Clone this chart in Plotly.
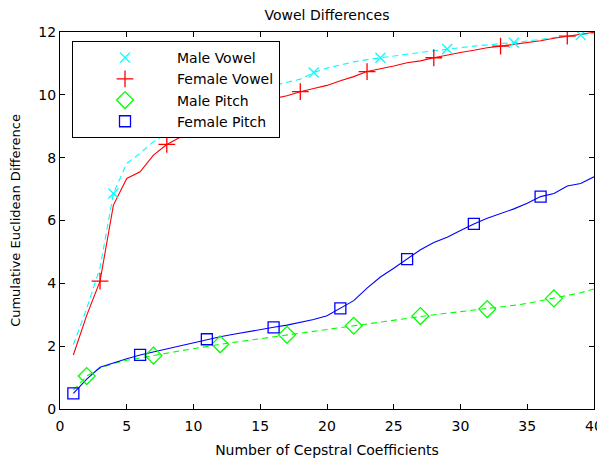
import plotly.graph_objects as go

coeffs = list(range(1, 41))

male_vowel = [2.05, 3.2, 4.5, 6.86, 7.82, 8.14, 8.51, 8.77, 9.0, 9.2,
              9.4, 9.6, 9.8, 9.95, 10.1, 10.3, 10.4, 10.5, 10.71, 10.85,
              10.95, 11.05, 11.12, 11.18, 11.25, 11.3, 11.35, 11.4, 11.46, 11.5,
              11.55, 11.6, 11.63, 11.66, 11.72, 11.77, 11.82, 11.86, 11.9, 11.96]

female_vowel = [1.72, 2.98, 4.07, 6.49, 7.34, 7.55, 8.08, 8.42, 8.65, 8.9,
                9.1, 9.3, 9.45, 9.6, 9.75, 9.88, 9.97, 10.1, 10.2, 10.3,
                10.45, 10.58, 10.74, 10.82, 10.92, 11.02, 11.08, 11.18, 11.27, 11.35,
                11.42, 11.5, 11.55, 11.6, 11.66, 11.72, 11.8, 11.87, 11.93, 11.99]

male_pitch = [0.6, 1.05, 1.3, 1.45, 1.55, 1.63, 1.7, 1.78, 1.85, 1.92,
              2.0, 2.06, 2.12, 2.18, 2.24, 2.3, 2.36, 2.42, 2.48, 2.54,
              2.6, 2.65, 2.72, 2.78, 2.84, 2.9, 2.96, 3.0, 3.05, 3.1,
              3.14, 3.18, 3.24, 3.3, 3.36, 3.44, 3.52, 3.6, 3.7, 3.82]

female_pitch = [0.5, 0.95, 1.33, 1.47, 1.6, 1.72, 1.82, 1.92, 2.02, 2.12,
                2.22, 2.3, 2.38, 2.46, 2.53, 2.6, 2.67, 2.75, 2.85, 2.97,
                3.2, 3.45, 3.85, 4.2, 4.48, 4.77, 5.07, 5.3, 5.47, 5.68,
                5.89, 6.07, 6.22, 6.37, 6.55, 6.76, 6.86, 7.1, 7.18, 7.39]

x_ticks = [0, 5, 10, 15, 20, 25, 30, 35, 40]
y_ticks = [0, 2, 4, 6, 8, 10, 12]

FONT = "DejaVu Sans"

series = [
    ("Male Vowel", male_vowel, "#00FFFF", "dash", "x-thin-open", 10, 3),
    ("Female Vowel", female_vowel, "#FF0000", "solid", "cross-thin-open", 12, 2),
    ("Male Pitch", male_pitch, "#00FF00", "dash", "diamond-open", 13, 1),
    ("Female Pitch", female_pitch, "#0000FF", "solid", "square-open", 11, 0),
]

fig = go.Figure()
for name, vals, color, dash, sym, size, start in series:
    fig.add_trace(go.Scatter(
        x=coeffs, y=vals, mode="lines", showlegend=False,
        line=dict(color=color, width=1.1, dash=("6px,4px" if dash == "dash" else "solid")),
        hoverinfo="skip"))
for name, vals, color, dash, sym, size, start in series:
    fig.add_trace(go.Scatter(
        x=coeffs[start::5], y=vals[start::5], mode="markers", name=name,
        marker=dict(symbol=sym, size=size, color=color, line=dict(color=color, width=1.3))))

axis_common = dict(
    showline=True, linecolor="black", linewidth=1, mirror="ticks",
    ticks="inside", ticklen=5, tickcolor="black", showgrid=False, zeroline=False,
    automargin=False,
    tickfont=dict(family=FONT, size=14, color="black"),
)

# the page body adds an 8px offset, so the figure is sized to compensate
fig.update_layout(
    width=597, height=452,
    margin=dict(l=52, r=11, t=24, b=51),
    paper_bgcolor="white", plot_bgcolor="white",
    title=dict(text="Vowel Differences", x=0.5343, xanchor="center", y=0.9845, yanchor="middle",
               font=dict(family=FONT, size=14, color="black")),
    xaxis=dict(range=[0, 40], tickvals=x_ticks, ticktext=[str(v) for v in x_ticks],
               ticklabelstandoff=4,
               title=dict(text="Number of Cepstral Coefficients", standoff=12,
                          font=dict(family=FONT, size=14, color="black")),
               **axis_common),
    yaxis=dict(range=[0, 12], tickvals=y_ticks, ticktext=[str(v) for v in y_ticks],
               title=dict(text="Cumulative Euclidean Difference", standoff=14,
                          font=dict(family=FONT, size=13, color="black")),
               **axis_common),
    legend=dict(x=0.0225, y=0.976, xanchor="left", yanchor="top",
                bordercolor="black", borderwidth=1, bgcolor="white",
                font=dict(family=FONT, size=14, color="black"),
                itemwidth=94, tracegroupgap=0),
    showlegend=True,
)

fig.write_html("out.html")
